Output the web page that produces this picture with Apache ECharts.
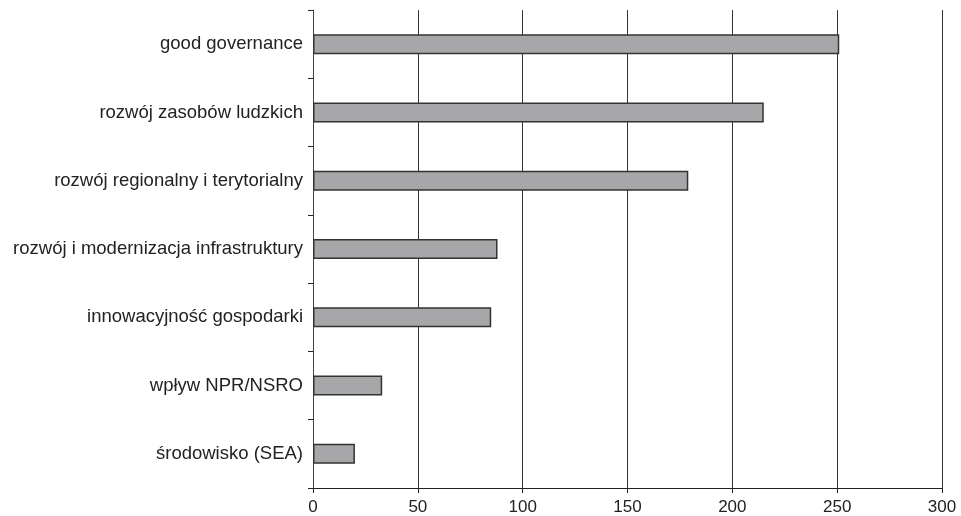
<!DOCTYPE html>
<html>
<head>
<meta charset="utf-8">
<script src="https://cdn.jsdelivr.net/npm/echarts@6/dist/echarts.min.js"></script>
<style>html,body{margin:0;padding:0;background:#fff}#c{width:961px;height:516px}</style>
</head>
<body>
<div id="c"></div>
<script>
var categories = ["good governance","rozwój zasobów ludzkich","rozwój regionalny i terytorialny","rozwój i modernizacja infrastruktury","innowacyjność gospodarki","wpływ NPR/NSRO","środowisko (SEA)"];
var values = [251, 215, 179, 88, 85, 33, 20];
var xTicks = [0, 50, 100, 150, 200, 250, 300];

var chart = echarts.init(document.getElementById('c'));
chart.setOption({
  animation: false,
  grid: {left: 313, right: 19, top: 10, bottom: 28},
  xAxis: {
    type: 'value', min: xTicks[0], max: xTicks[xTicks.length-1], interval: 50,
    axisLine: {show: true, lineStyle: {color: '#222', width: 1}},
    axisTick: {show: true, length: 5, lineStyle: {color: '#222'}},
    axisLabel: {color: '#222', fontSize: 17, fontFamily: 'Liberation Sans', margin: 11},
    splitLine: {show: true, lineStyle: {color: '#333', width: 1}}
  },
  yAxis: {
    type: 'category', data: categories, inverse: true,
    axisLine: {show: true, lineStyle: {color: '#444', width: 1}},
    axisTick: {show: true, length: 5, alignWithLabel: false, lineStyle: {color: '#222'}},
    axisLabel: {color: '#222', fontSize: 18.5, fontFamily: 'Liberation Sans', margin: 10},
    splitLine: {show: false}
  },
  series: [{
    type: 'bar', data: values, barWidth: 20,
    itemStyle: {color: '#a7a7a9', borderColor: '#333', borderWidth: 1.5}
  }]
});
</script>
</body>
</html>
